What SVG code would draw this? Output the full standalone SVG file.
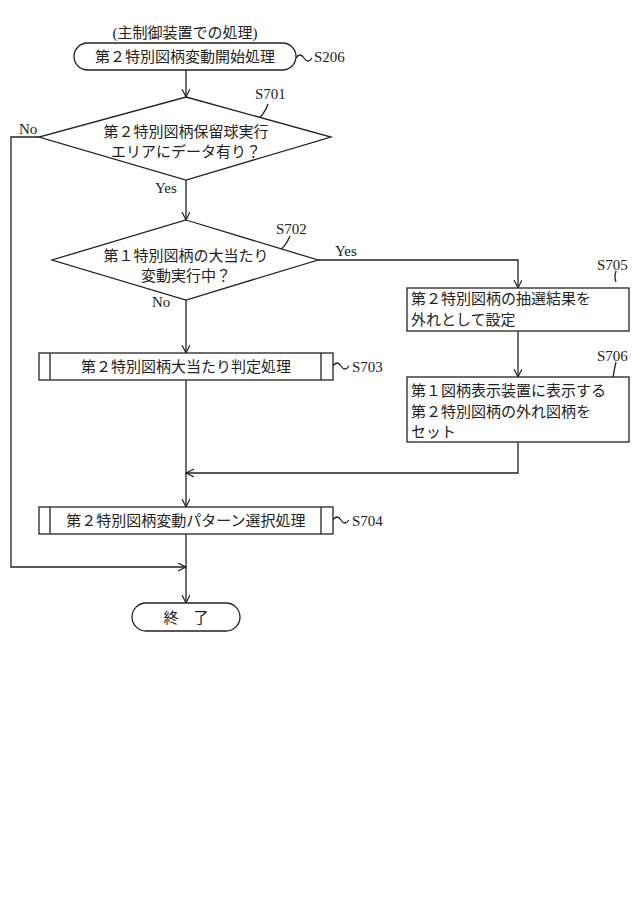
<svg xmlns="http://www.w3.org/2000/svg" width="640" height="924" viewBox="0 0 640 924">
<style>
.s{fill:none;stroke:#222;stroke-width:1.3}
.b{fill:#fff;stroke:#222;stroke-width:1.3}
text{font-family:"Liberation Serif","Noto Sans CJK JP",serif;font-size:15px;fill:#222}
.c{text-anchor:middle}
.l{font-size:14px}
</style>
<defs><marker id="a" markerWidth="10" markerHeight="10" refX="8" refY="4" orient="auto" markerUnits="userSpaceOnUse"><path d="M0,0 L8,4 L0,8" fill="none" stroke="#222" stroke-width="1.2"/></marker></defs>
<rect width="640" height="924" fill="#fff"/>
<g id="connectors" class="s">
<path d="M186,70 V97" marker-end="url(#a)"/>
<path d="M186,180 V220" marker-end="url(#a)"/>
<path d="M186,300 V353" marker-end="url(#a)"/>
<path d="M318,260 H518 V288" marker-end="url(#a)"/>
<path d="M518,331 V377" marker-end="url(#a)"/>
<path d="M518,442 V473 H186" marker-end="url(#a)"/>
<path d="M186,380 V507" marker-end="url(#a)"/>
<path d="M39,137 H11 V567 H186" marker-end="url(#a)"/>
<path d="M186,534 V603" marker-end="url(#a)"/>
<path d="M296,58 q4,-6 8,0 t8,0"/>
<path d="M268,104 q-4,12 -14,18"/>
<path d="M290,236 q-4,10 -12,16"/>
<path d="M333,366 q4,-6 8,0 t8,0"/>
<path d="M333,520 q4,-6 8,0 t8,0"/>
<path d="M616,271 q-2,6 0,11"/>
<path d="M616,362 q-2,8 -3,16"/>
</g>
<text class="c" x="185" y="38">(主制御装置での処理)</text>
<g id="start"><rect class="b" x="74" y="43" width="222" height="27" rx="13.5"/><text class="c" x="185" y="62">第２特別図柄変動開始処理</text><text x="314" y="62">S206</text></g>
<g id="S701"><path class="b" d="M186,97 L331,137 L186,180 L39,137 Z"/><text class="c" x="186" y="137">第２特別図柄保留球実行</text><text class="c" x="186" y="157">エリアにデータ有り？</text><text x="255" y="99">S701</text><text x="19" y="134">No</text><text x="155" y="193">Yes</text></g>
<g id="S702"><path class="b" d="M186,220 L318,260 L186,300 L52,260 Z"/><text class="c" x="186" y="261">第１特別図柄の大当たり</text><text class="c" x="186" y="281">変動実行中？</text><text x="276" y="234">S702</text><text x="335" y="256">Yes</text><text x="152" y="307">No</text></g>
<g id="S705"><rect class="b" x="407" y="288" width="222" height="43"/><text x="411" y="304">第２特別図柄の抽選結果を</text><text x="411" y="325">外れとして設定</text><text x="597" y="270">S705</text></g>
<g id="S706"><rect class="b" x="407" y="377" width="222" height="65"/><text x="411" y="396">第１図柄表示装置に表示する</text><text x="411" y="417">第２特別図柄の外れ図柄を</text><text x="411" y="437">セット</text><text x="597" y="361">S706</text></g>
<g id="S703"><rect class="b" x="39" y="353" width="294" height="27"/><path class="s" d="M50,353 V380 M321,353 V380"/><text class="c" x="186" y="372">第２特別図柄大当たり判定処理</text><text x="352" y="372">S703</text></g>
<g id="S704"><rect class="b" x="39" y="507" width="294" height="27"/><path class="s" d="M50,507 V534 M321,507 V534"/><text class="c" x="186" y="526">第２特別図柄変動パターン選択処理</text><text x="352" y="526">S704</text></g>
<g id="end"><rect class="b" x="132" y="603" width="108" height="28" rx="14"/><text class="c" x="186" y="623">終　了</text></g>
</svg>
